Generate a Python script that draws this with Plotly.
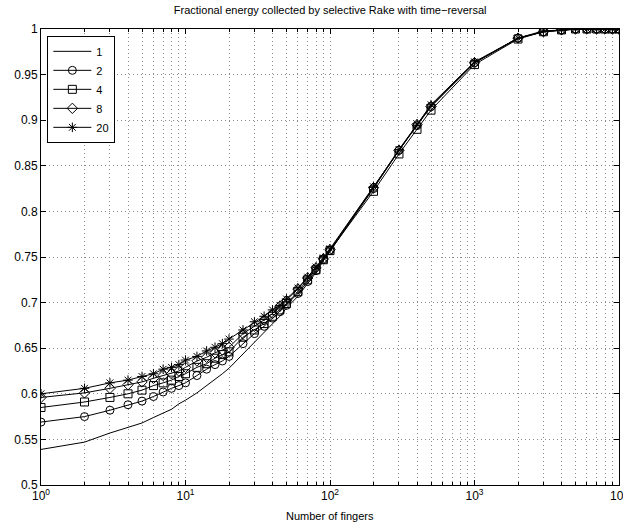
import plotly.graph_objects as go

# number of fingers (x) and fractional energy for each group size
fingers = [1, 2, 3, 4, 5, 6, 7, 8, 9, 10, 12, 14, 16, 18, 20, 25, 30, 35, 40, 45, 50,
           60, 70, 80, 90, 100, 200, 300, 400, 500, 1000,
           2000, 3000, 4000, 5000, 6000, 7000, 8000, 9000, 10000]

energy_1 = [0.539, 0.547, 0.557, 0.563, 0.568, 0.574, 0.579, 0.583, 0.589, 0.593,
            0.601, 0.609, 0.615, 0.622, 0.628, 0.644, 0.657, 0.667, 0.677, 0.685, 0.694,
            0.707, 0.721, 0.733, 0.746, 0.756, 0.826, 0.868, 0.895, 0.916, 0.963,
            0.990, 0.997, 0.999, 1.0, 1.0, 1.0, 1.0, 1.0, 1.0]
energy_2 = [0.569, 0.575, 0.582, 0.588, 0.592, 0.597, 0.602, 0.606, 0.609, 0.612,
            0.620, 0.627, 0.632, 0.636, 0.641, 0.655, 0.666, 0.674, 0.683, 0.690, 0.697,
            0.710, 0.723, 0.735, 0.747, 0.757, 0.825, 0.867, 0.894, 0.915, 0.963,
            0.990, 0.997, 0.999, 1.0, 1.0, 1.0, 1.0, 1.0, 1.0]
energy_4 = [0.585, 0.591, 0.596, 0.600, 0.604, 0.609, 0.612, 0.615, 0.619, 0.622,
            0.629, 0.633, 0.639, 0.643, 0.646, 0.662, 0.670, 0.677, 0.685, 0.692, 0.699,
            0.712, 0.725, 0.736, 0.747, 0.757, 0.822, 0.863, 0.890, 0.911, 0.961,
            0.989, 0.997, 0.999, 1.0, 1.0, 1.0, 1.0, 1.0, 1.0]
energy_8 = [0.596, 0.601, 0.606, 0.610, 0.613, 0.617, 0.620, 0.622, 0.625, 0.629,
            0.636, 0.640, 0.645, 0.648, 0.651, 0.666, 0.674, 0.681, 0.688, 0.696, 0.702,
            0.715, 0.727, 0.738, 0.748, 0.758, 0.826, 0.867, 0.895, 0.915, 0.963,
            0.990, 0.997, 0.999, 1.0, 1.0, 1.0, 1.0, 1.0, 1.0]
energy_20 = [0.600, 0.606, 0.612, 0.615, 0.619, 0.622, 0.627, 0.629, 0.632, 0.637,
             0.641, 0.647, 0.651, 0.655, 0.660, 0.670, 0.679, 0.685, 0.692, 0.697, 0.704,
             0.716, 0.728, 0.739, 0.749, 0.759, 0.827, 0.868, 0.896, 0.917, 0.964,
             0.990, 0.998, 0.999, 1.0, 1.0, 1.0, 1.0, 1.0, 1.0]

series_names = ["1", "2", "4", "8", "20"]
series_values = [energy_1, energy_2, energy_4, energy_8, energy_20]
series_markers = [None, "circle-open", "square-open", "diamond-open", "asterisk-open"]

y_ticks = [0.5, 0.55, 0.6, 0.65, 0.7, 0.75, 0.8, 0.85, 0.9, 0.95, 1.0]
y_labels = ["0.5", "0.55", "0.6", "0.65", "0.7", "0.75", "0.8", "0.85", "0.9", "0.95", "1"]
x_ticks = [1, 10, 100, 1000, 10000]
x_labels = ["10<sup>0</sup>", "10<sup>1</sup>", "10<sup>2</sup>", "10<sup>3</sup>", "10<sup>4</sup>"]

fig = go.Figure()
for name, vals, sym in zip(series_names, series_values, series_markers):
    if sym is None:
        fig.add_trace(go.Scatter(x=fingers, y=vals, name=name, mode="lines",
                                 line=dict(color="black", width=1)))
    else:
        fig.add_trace(go.Scatter(x=fingers, y=vals, name=name, mode="lines+markers",
                                 line=dict(color="black", width=1),
                                 marker=dict(symbol=sym, size=8, color="black",
                                             line=dict(width=1, color="black"))))

font_family = "Liberation Sans, Arial, sans-serif"
grid_col = "#8c8c8c"
grid_dash = "1px,3px"

fig.update_layout(
    width=623, height=523,
    margin=dict(l=41, r=4, t=29, b=38, autoexpand=False),
    paper_bgcolor="white", plot_bgcolor="white",
    font=dict(family=font_family, size=12, color="black"),
    title=dict(text="Fractional energy collected by selective Rake with time\u2212reversal",
               x=0.53, xanchor="center", y=1 - 10 / 523, yanchor="middle",
               font=dict(family=font_family, size=11, color="black")),
    legend=dict(x=0.011, y=0.985, xanchor="left", yanchor="top",
                bgcolor="white", bordercolor="black", borderwidth=1,
                font=dict(size=11), itemwidth=38, tracegroupgap=0),
    annotations=[dict(text="Number of fingers", xref="paper", yref="paper",
                      x=0.5, y=-31 / 456, xanchor="center", yanchor="middle",
                      showarrow=False, font=dict(family=font_family, size=11))],
)

fig.update_xaxes(
    type="log", range=[0, 4], automargin=False,
    tickvals=x_ticks, ticktext=x_labels, ticklabeloverflow="allow",
    ticks="inside", ticklen=5, tickcolor="black",
    showline=True, linecolor="black", linewidth=1, mirror="ticks",
    showgrid=True, gridcolor=grid_col, griddash=grid_dash, gridwidth=1,
    minor=dict(dtick="D1", ticks="inside", ticklen=3, tickcolor="black",
               showgrid=True, gridcolor=grid_col, griddash=grid_dash, gridwidth=1),
    zeroline=False,
    tickfont=dict(size=12),
)
fig.update_yaxes(
    range=[0.5, 1.0], automargin=False,
    tickvals=y_ticks, ticktext=y_labels,
    ticks="inside", ticklen=5, tickcolor="black",
    showline=True, linecolor="black", linewidth=1, mirror="ticks",
    showgrid=True, gridcolor=grid_col, griddash=grid_dash, gridwidth=1,
    zeroline=False,
    tickfont=dict(size=12),
)

# the page body has an 8px default margin; drop it so the figure fills the window
fig.write_html("out.html", config={"displayModeBar": False},
               post_script="document.body.style.margin='0';")
